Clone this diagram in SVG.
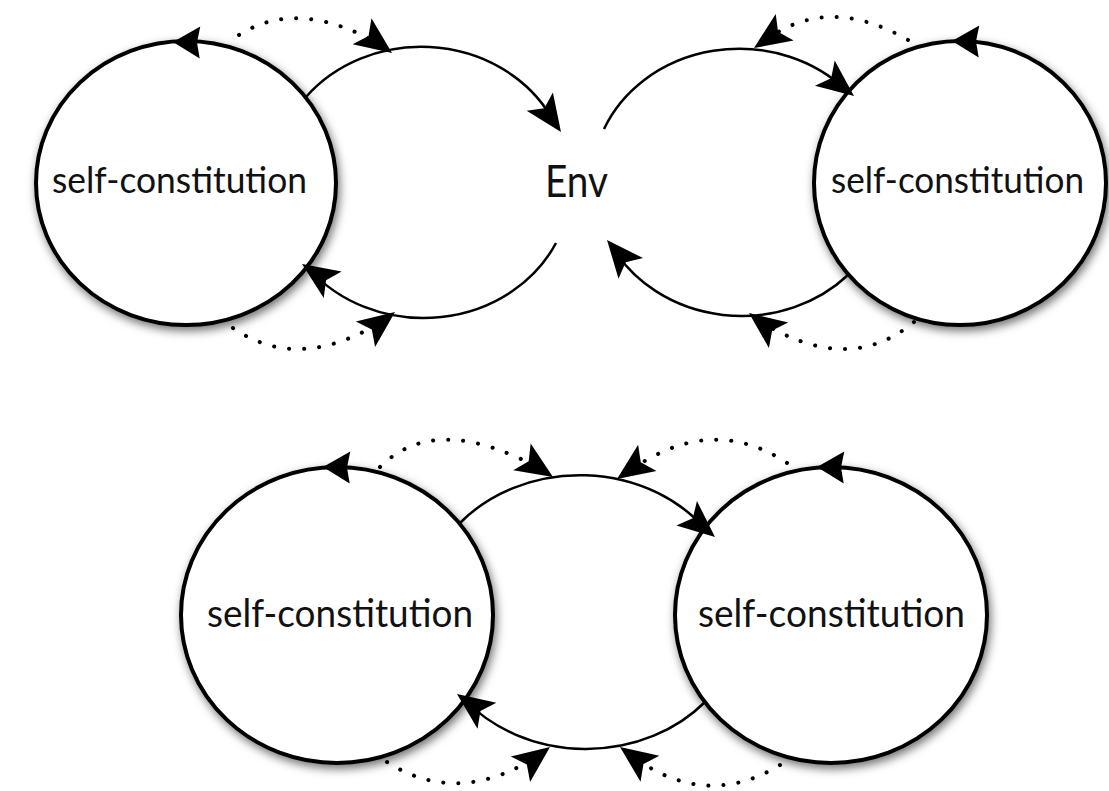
<svg xmlns="http://www.w3.org/2000/svg" width="1109" height="791" viewBox="0 0 1109 791">
<defs>
<filter id="shadow" x="-20%" y="-20%" width="140%" height="140%">
<feDropShadow dx="2" dy="4" stdDeviation="5" flood-color="#000" flood-opacity="0.55"/>
</filter>
<path id="head" d="M0,0 L-37,-16 L-29,0 L-37,16 Z"/>
<path id="chead" d="M0,0 L-27,-16 L-24,0 L-27,16 Z"/>
</defs>
<style>
.node{fill:#fff;stroke:#000;stroke-width:4}
.lbl{font-family:Lato,"Open Sans","Liberation Sans",sans-serif;fill:#111}
.arc{fill:none;stroke:#000;stroke-width:2.5}
.dot{fill:none;stroke:#000;stroke-width:4;stroke-linecap:round;stroke-dasharray:0.1 15}
.ah{fill:#000}
</style>
<rect width="1109" height="791" fill="#fff"/>

<g id="node-env">
<text class="lbl" x="545" y="197" font-size="45" textLength="63" lengthAdjust="spacingAndGlyphs">Env</text>
</g>

<g id="node-top-left">
<ellipse class="node" cx="186" cy="183" rx="150" ry="142" filter="url(#shadow)"/>
<text class="lbl" x="52" y="193" font-size="37" textLength="255" lengthAdjust="spacingAndGlyphs">self-constitution</text>
<use href="#chead" class="ah" transform="translate(173,42) rotate(181)"/>
</g>

<g id="node-top-right">
<ellipse class="node" cx="960" cy="183" rx="146" ry="142" filter="url(#shadow)"/>
<text class="lbl" x="831" y="193" font-size="37" textLength="253" lengthAdjust="spacingAndGlyphs">self-constitution</text>
<use href="#chead" class="ah" transform="translate(952,41) rotate(181)"/>
</g>

<g id="node-bottom-left">
<ellipse class="node" cx="337" cy="615" rx="156" ry="148" filter="url(#shadow)"/>
<text class="lbl" x="207" y="627" font-size="39" textLength="266" lengthAdjust="spacingAndGlyphs">self-constitution</text>
<use href="#chead" class="ah" transform="translate(323,467) rotate(181)"/>
</g>

<g id="node-bottom-right">
<ellipse class="node" cx="831" cy="615" rx="156" ry="148" filter="url(#shadow)"/>
<text class="lbl" x="698" y="627" font-size="39" textLength="267" lengthAdjust="spacingAndGlyphs">self-constitution</text>
<use href="#chead" class="ah" transform="translate(817,467) rotate(181)"/>
</g>

<g id="connectors">
<!-- top left loop -->
<path class="arc" d="M306,97 A147,132 0 0 1 555,124"/>
<use href="#head" class="ah" transform="translate(561,132) rotate(55)"/>
<path class="arc" d="M556,243 A147,132 0 0 1 310,270"/>
<use href="#head" class="ah" transform="translate(302,264) rotate(214)"/>
<!-- top right loop -->
<path class="arc" d="M604,129 A147,132 0 0 1 846,90"/>
<use href="#head" class="ah" transform="translate(854,96) rotate(38)"/>
<path class="arc" d="M848,275 A147,132 0 0 1 613,248"/>
<use href="#head" class="ah" transform="translate(607,240) rotate(230)"/>
<!-- bottom loop -->
<path class="arc" d="M460,523 A157,135 0 0 1 707,531"/>
<use href="#head" class="ah" transform="translate(715,537) rotate(40)"/>
<path class="arc" d="M705,702 A157,135 0 0 1 465,700"/>
<use href="#head" class="ah" transform="translate(457,694) rotate(216)"/>
<!-- dotted top section -->
<path class="dot" d="M239,35 Q300,-4 386,48"/>
<use href="#head" class="ah" transform="translate(392,53) rotate(36)"/>
<path class="dot" d="M233,328 Q301,375 389,317"/>
<use href="#head" class="ah" transform="translate(395,312) rotate(-37)"/>
<path class="dot" d="M908,40 Q825,-8 761,44"/>
<use href="#head" class="ah" transform="translate(754,48) rotate(146)"/>
<path class="dot" d="M914,322 Q847,378 755,318"/>
<use href="#head" class="ah" transform="translate(749,313) rotate(217)"/>
<!-- dotted bottom section -->
<path class="dot" d="M380,467 Q437,410 546,472"/>
<use href="#head" class="ah" transform="translate(553,477) rotate(33)"/>
<path class="dot" d="M787,463 Q709,411 624,475"/>
<use href="#head" class="ah" transform="translate(617,479) rotate(145)"/>
<path class="dot" d="M387,762 Q460,809 544,752"/>
<use href="#head" class="ah" transform="translate(550,747) rotate(-37)"/>
<path class="dot" d="M780,765 Q703,812 627,752"/>
<use href="#head" class="ah" transform="translate(620,747) rotate(216)"/>
</g>
</svg>
